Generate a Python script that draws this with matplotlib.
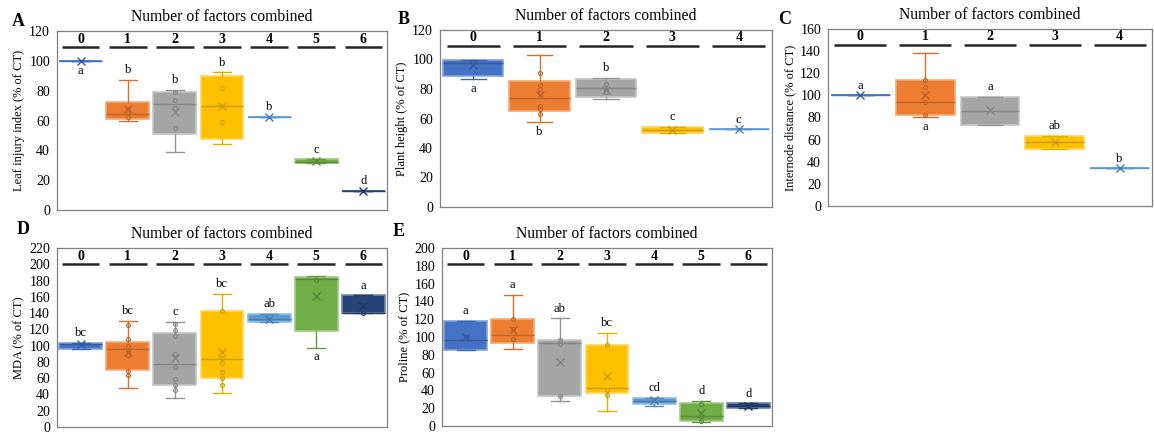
import numpy as np
import matplotlib.pyplot as plt

plt.rcParams['font.family'] = ['Liberation Serif', 'DejaVu Serif']

# Excel palette
colors = ['#4472C4', '#ED7D31', '#A5A5A5', '#FFC000', '#5B9BD5', '#70AD47', '#264478']

# ---- A: Leaf injury index ----
a_lo = [100, 59.7, 39, 44.1, 62.2, 31.3, 12.6]
a_q1 = [100, 61.2, 50.9, 47.7, 62.2, 31.3, 12.6]
a_med = [100, 64.2, 71.2, 69.8, 62.2, 32.5, 12.6]
a_q3 = [100, 72.7, 78.8, 89.6, 62.2, 34.0, 12.6]
a_hi = [100, 87.4, 80.6, 92.3, 62.2, 34.0, 12.6]
a_mean = [100, 68, 65.8, 69.4, 62.2, 32.7, 12.6]
a_pts = [[], [67.5, 65.3, 62.6], [78.8, 73.6, 68.7, 55], [81.5, 59], [], [], []]
a_let = ['a', 'b', 'b', 'b', 'b', 'c', 'd']
a_side = ['below', 'above', 'above', 'above', 'above', 'above', 'above']

# ---- B: Plant height ----
b_lo = [86.8, 57.3, 73.2, 50, 52.7]
b_q1 = [89.1, 64.8, 74.3, 50, 52.7]
b_med = [97.7, 73.9, 80.7, 52.3, 52.7]
b_q3 = [99.5, 85.7, 86.6, 54.1, 52.7]
b_hi = [100, 103, 87.5, 54.1, 52.7]
b_mean = [96.1, 76.1, 79, 52.3, 52.7]
b_pts = [[98.2], [90.9, 83, 80, 77.3, 68.6, 66.4, 63], [83.6, 80, 77.7], [], []]
b_let = ['a', 'b', 'b', 'c', 'c']
b_side = ['below', 'below', 'above', 'above', 'above']

# ---- C: Internode distance ----
c_lo = [100, 80.3, 73, 51.5, 33.9]
c_q1 = [100, 82.1, 73, 51.5, 33.9]
c_med = [100, 94.2, 85.8, 57.6, 33.9]
c_q3 = [100, 113.6, 98.5, 63.6, 33.9]
c_hi = [100, 137.9, 98.5, 63.6, 33.9]
c_mean = [100, 100.3, 86.4, 57.6, 33.9]
c_pts = [[], [113.6, 107.9, 94.2, 82.1], [], [], []]
c_let = ['a', 'a', 'a', 'ab', 'b']
c_side = ['above', 'below', 'above', 'above', 'above']

# ---- D: MDA ----
d_lo = [96.3, 47.9, 35.5, 42.1, 129.6, 97.4, 140.3]
d_q1 = [96.3, 70.2, 51.6, 60.7, 129.6, 118, 140.3]
d_med = [101.5, 96.2, 77.6, 83.8, 133.3, 182, 140.3]
d_q3 = [103.2, 104.4, 115.2, 142, 138.7, 184.9, 161.8]
d_hi = [103.2, 130.8, 128.8, 163.5, 138.7, 185.7, 161.8]
d_mean = [101.5, 92, 84.2, 92, 133.3, 161, 149]
d_pts = [[], [125.9, 107.7, 99.5, 93.3, 87.9, 69.4, 63.6],
         [126.3, 118.8, 111.4, 89.2, 73.5, 59.4, 51.2, 45.8],
         [142.4, 84.2, 78.8, 67.7, 60.7, 51.6], [], [180.8], [140.7]]
d_let = ['bc', 'bc', 'c', 'bc', 'ab', 'a', 'a']
d_side = ['above', 'above', 'above', 'above', 'above', 'below', 'above']

# ---- E: Proline ----
e_lo = [85.8, 86.6, 28, 16.6, 22.3, 4.5, 20.4]
e_q1 = [85.8, 93.3, 33.6, 36.7, 24.2, 5.7, 20.4]
e_med = [96.8, 102, 93.3, 43.1, 28, 11.7, 22.7]
e_q3 = [118, 119.8, 96.4, 91.5, 31.8, 26, 25.3]
e_hi = [118, 147.4, 121, 104.7, 31.8, 28, 25.3]
e_mean = [99.8, 107.6, 71.8, 56, 29.1, 15, 22.7]
e_pts = [[99.8], [119.8, 109.2, 98.3], [96.4, 92.6, 33.6], [91.5, 40.5, 34.8],
         [], [24.6, 11.7, 5.3], []]
e_let = ['a', 'a', 'ab', 'bc', 'cd', 'd', 'd']
e_side = ['above'] * 7


def rgb(c):
    return np.array([int(c[i:i + 2], 16) / 255 for i in (1, 3, 5)])


def darker(c, f=0.8):
    return tuple(rgb(c) * f)


def lighter(c, f=0.35):
    v = rgb(c)
    return tuple(v + (1 - v) * f)


def panel(ax, lo, q1, med, q3, hi, mean, pts, let, side, ymax, ystep, ylabel):
    n = len(lo)
    tr = ax.get_xaxis_transform()
    for i in range(n):
        st = dict(whislo=lo[i], q1=q1[i], med=med[i], q3=q3[i], whishi=hi[i],
                  mean=mean[i], fliers=[])
        col = colors[i]
        dk = darker(col)
        single = q1[i] == q3[i]
        edge = col if single else lighter(col)
        ax.bxp([st], positions=[i], widths=0.91, patch_artist=True,
               showmeans=True, showfliers=False, capwidths=0.38,
               boxprops=dict(facecolor=col, edgecolor=edge, linewidth=1.2),
               medianprops=dict(color=col if single else dk, linewidth=1.0),
               whiskerprops=dict(color=darker(col, 0.9), linewidth=1.0),
               capprops=dict(color=darker(col, 0.9), linewidth=1.0),
               meanprops=dict(marker='x', markeredgecolor=dk, markersize=6,
                              markeredgewidth=1.0))
        if pts[i]:
            ax.plot([i] * len(pts[i]), pts[i], 'o', ms=2.8, mfc='none',
                    mec=dk, mew=0.8, zorder=5)
        if side[i] == 'above':
            ax.annotate(let[i], (i, hi[i]), xytext=(0, 7), textcoords='offset points',
                        ha='center', va='center', fontsize=9)
        else:
            ax.annotate(let[i], (i, lo[i]), xytext=(0, -7), textcoords='offset points',
                        ha='center', va='center', fontsize=9)
        # header: number of factors
        ax.plot([i - 0.4, i + 0.4], [0.91, 0.91], color='#262626', lw=1.8,
                transform=tr, solid_capstyle='butt')
        ax.text(i, 0.955, str(i), transform=tr, ha='center', va='center',
                fontsize=10, fontweight='bold')
    ax.set_xlim(-0.5, n - 0.5)
    ax.set_ylim(0, ymax)
    ax.set_yticks(np.arange(0, ymax + 1, ystep))
    ax.set_xticks([])
    ax.tick_params(axis='y', length=0, pad=5, labelsize=10)
    for s in ax.spines.values():
        s.set_color('#808080')
        s.set_linewidth(0.9)
    ax.set_ylabel(ylabel, fontsize=9, labelpad=3)
    ax.set_title('Number of factors combined', fontsize=11.3, pad=7)


W, H = 1154, 433
fig = plt.figure(figsize=(W / 100, H / 100), dpi=100)


def box(l, t, r, b):
    return [l / W, 1 - b / H, (r - l) / W, (b - t) / H]


axA = fig.add_axes(box(57, 31, 387, 210))
axB = fig.add_axes(box(440, 30, 772, 207))
axC = fig.add_axes(box(828, 29, 1152, 206))
axD = fig.add_axes(box(57, 248, 387, 427))
axE = fig.add_axes(box(442, 248, 772, 426))

panel(axA, a_lo, a_q1, a_med, a_q3, a_hi, a_mean, a_pts, a_let, a_side,
      120, 20, 'Leaf injury index (% of CT)')
panel(axB, b_lo, b_q1, b_med, b_q3, b_hi, b_mean, b_pts, b_let, b_side,
      120, 20, 'Plant height (% of CT)')
panel(axC, c_lo, c_q1, c_med, c_q3, c_hi, c_mean, c_pts, c_let, c_side,
      160, 20, 'Internode distance (% of CT)')
panel(axD, d_lo, d_q1, d_med, d_q3, d_hi, d_mean, d_pts, d_let, d_side,
      220, 20, 'MDA (% of CT)')
panel(axE, e_lo, e_q1, e_med, e_q3, e_hi, e_mean, e_pts, e_let, e_side,
      200, 20, 'Proline (% of CT)')

# panel tags, placed in figure pixels
for tag, px, py in [('A', 12, 22), ('B', 398, 20), ('C', 778, 20),
                    ('D', 17, 230), ('E', 393, 231)]:
    fig.text(px / W, 1 - py / H, tag, fontsize=13, fontweight='bold',
             ha='left', va='center')

fig.savefig('out.png', dpi=100)
